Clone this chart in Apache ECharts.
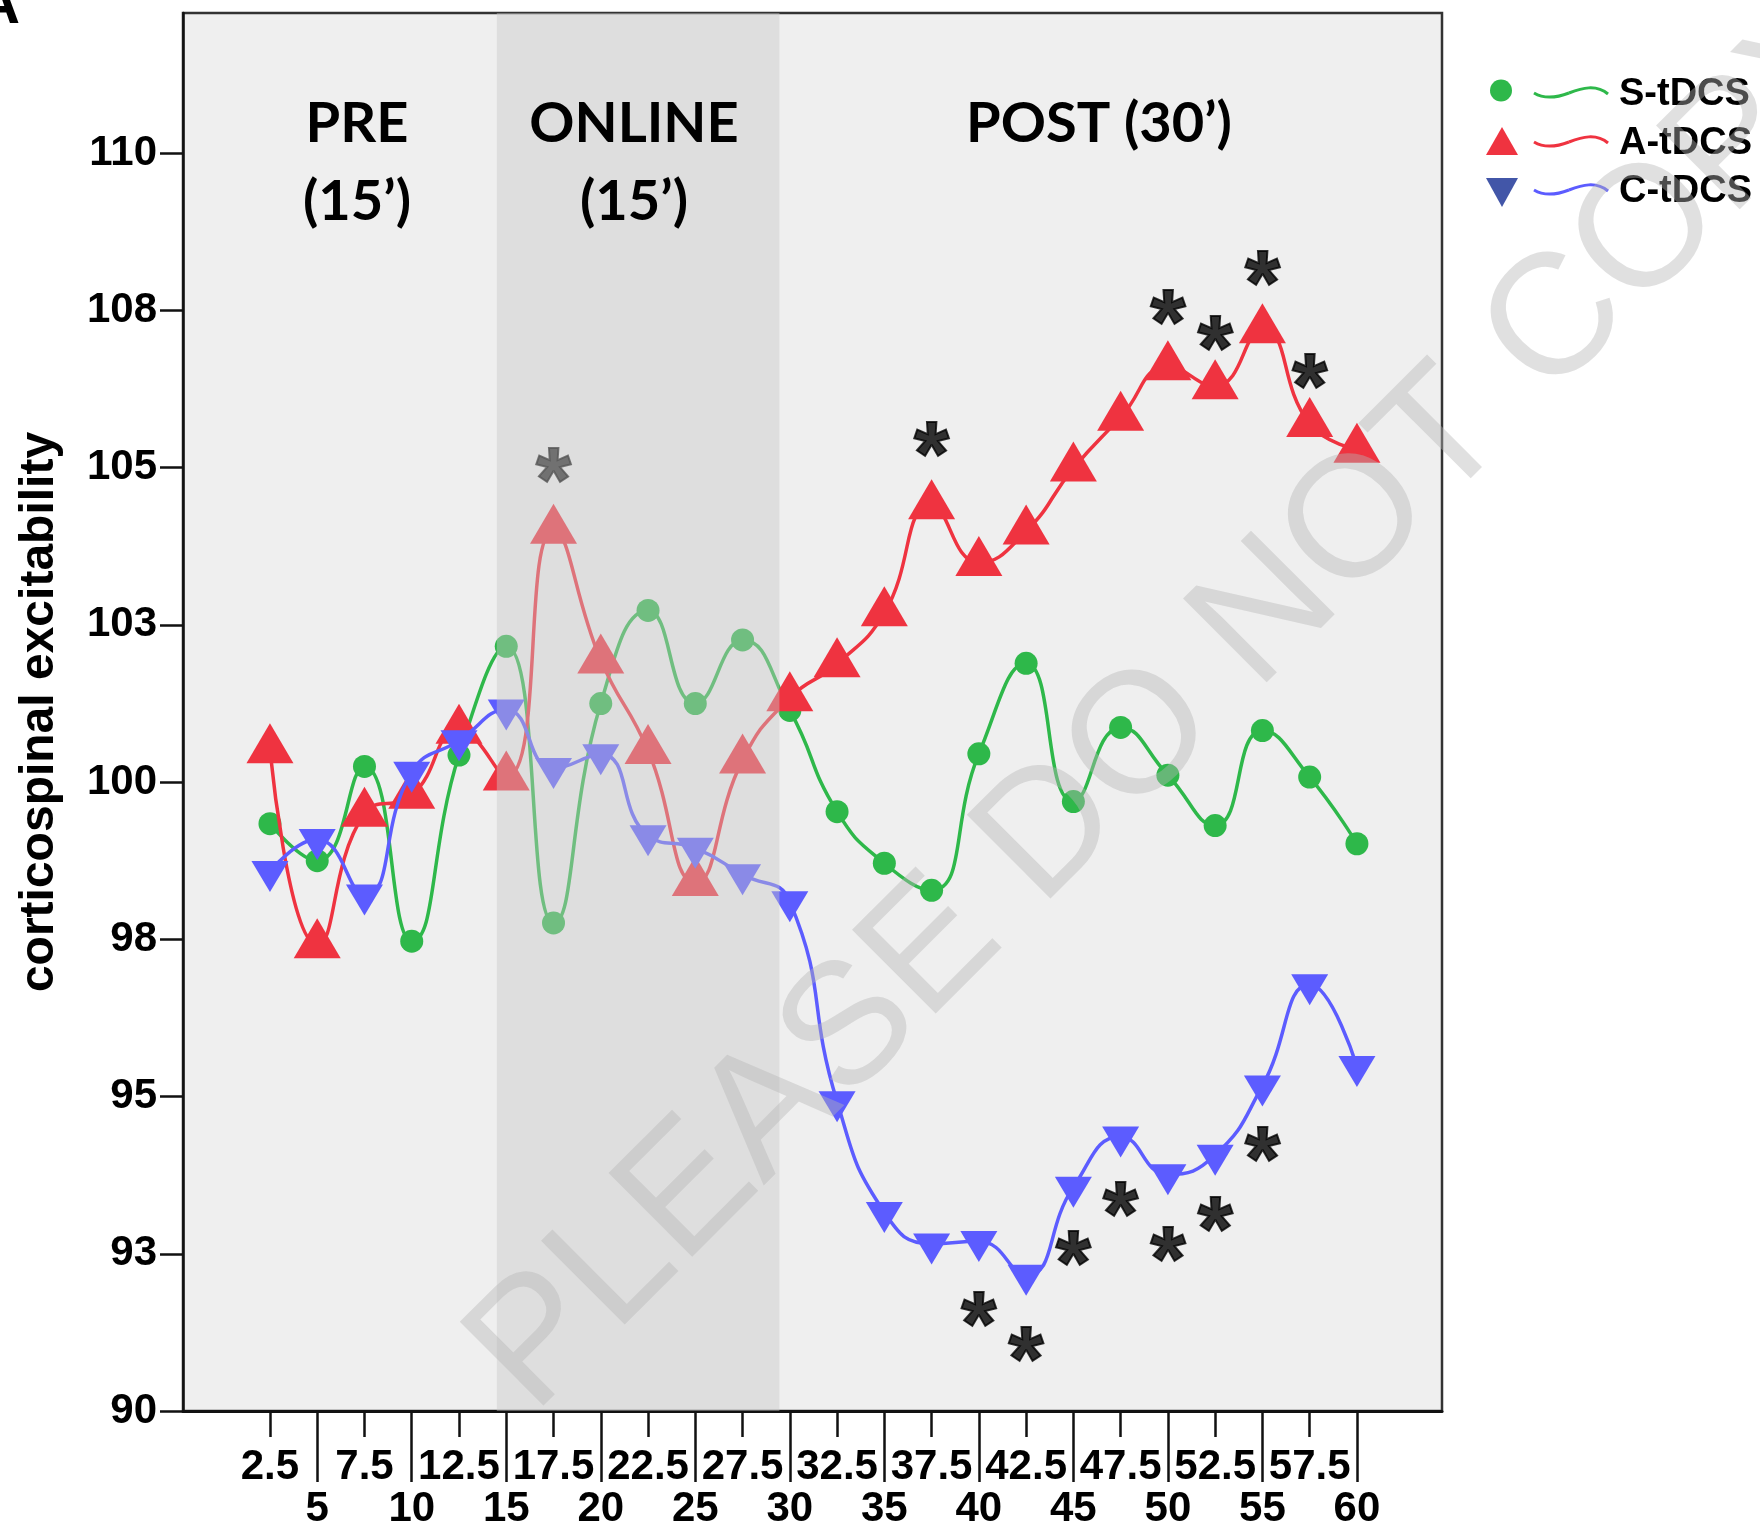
<!DOCTYPE html>
<html>
<head>
<meta charset="utf-8">
<script src="https://cdn.jsdelivr.net/npm/echarts@6/dist/echarts.min.js"></script>
<style>
  html, body { margin: 0; padding: 0; background: #ffffff; }
  #chart { width: 1760px; height: 1525px; }
</style>
</head>
<body>
<div id="chart"></div>
<script>
// Sampling times (minutes) and mean corticospinal excitability per condition
const timePoints = [2.5, 5, 7.5, 10, 12.5, 15, 17.5, 20, 22.5, 25, 27.5, 30,
                    32.5, 35, 37.5, 40, 42.5, 45, 47.5, 50, 52.5, 55, 57.5, 60];
const shamValues = [99.34, 98.75, 100.25, 97.47, 100.43, 102.16, 97.76, 101.25, 102.73, 101.25, 102.26, 101.14,
                    99.53, 98.71, 98.28, 100.45, 101.89, 99.69, 100.87, 100.11, 99.31, 100.82, 100.08, 99.02];
const anodalValues = [100.51, 97.41, 99.50, 99.79, 100.82, 100.08, 104.00, 101.94, 100.50, 98.40, 100.35, 101.34,
                      101.88, 102.69, 104.39, 103.49, 103.99, 104.99, 105.80, 106.60, 106.30, 107.19, 105.70, 105.29];
const cathodalValues = [98.58, 99.09, 98.21, 100.16, 100.66, 101.15, 100.22, 100.44, 99.15, 98.95, 98.53, 98.10,
                        94.92, 93.16, 92.66, 92.70, 92.16, 93.56, 94.36, 93.76, 94.07, 95.17, 96.78, 95.48];

// Significance asterisks (time, level on the excitability scale)
const starX = [17.5, 37.5, 50, 52.5, 55, 57.5, 40, 42.5, 45, 47.5, 50, 52.5, 55];
const starY = [105.02, 105.43, 107.53, 107.13, 108.16, 106.52, 91.60, 91.04, 92.58, 93.35, 92.63, 93.11, 94.22];

// Axis ticks and labels
const yTickValues = [90, 92.5, 95, 97.5, 100, 102.5, 105, 107.5, 110];
const yTickLabels = ['90', '93', '95', '98', '100', '103', '105', '108', '110'];
const xTickUpper = [2.5, 7.5, 12.5, 17.5, 22.5, 27.5, 32.5, 37.5, 42.5, 47.5, 52.5, 57.5];
const xTickLower = [5, 10, 15, 20, 25, 30, 35, 40, 45, 50, 55, 60];

// Stimulation window and phase headings
const onlineWindow = [14.5, 29.45];
const phaseTitles = ['PRE\n(15\u2019)', 'ONLINE\n(15\u2019)', 'POST (30\u2019)'];
const seriesNames = ['S-tDCS', 'A-tDCS', 'C-tDCS'];

const COLORS = { sham: '#2eb84a', anodal: '#ef3340', cathodal: '#5c5cff', cathodalKey: '#4256a8' };
const FONT = "'Liberation Sans', Arial, Helvetica, sans-serif";
const HEAD_FONT = "Lato, 'Open Sans', sans-serif";

const pairs = vals => timePoints.map((t, i) => [t, vals[i]]);
const yLabelMap = {};
yTickValues.forEach((v, i) => { yLabelMap[v] = yTickLabels[i]; });

const X_MIN = -2.1, X_MAX = 64.5, Y_MIN = 90, Y_MAX = 112.23;

const axisText = { fontFamily: FONT, fontWeight: 'bold', fontSize: 42, color: '#000', lineHeight: 42 };

function keyRow(i, y, marker) {
  const x0 = 1534;
  const color = [COLORS.sham, COLORS.anodal, COLORS.cathodal][i];
  const wy = y;
  return [
    marker,
    { type: 'bezierCurve', z: 20,
      shape: { x1: x0, y1: wy, cpx1: x0 + 10, cpy1: wy + 6, cpx2: x0 + 22, cpy2: wy + 5, x2: x0 + 35, y2: wy },
      style: { stroke: color, lineWidth: 3, fill: null } },
    { type: 'bezierCurve', z: 20,
      shape: { x1: x0 + 35, y1: wy, cpx1: x0 + 48, cpy1: wy - 5, cpx2: x0 + 62, cpy2: wy - 9, x2: x0 + 74, y2: wy + 1 },
      style: { stroke: color, lineWidth: 3, fill: null } },
    { type: 'text', z: 20, x: 1619, y: y + 2,
      style: { text: seriesNames[i], fontFamily: FONT, fontWeight: 'bold', fontSize: 38, fill: '#000',
               align: 'left', verticalAlign: 'middle' } }
  ];
}

const headStyle = { fontFamily: HEAD_FONT, fontWeight: 'bold', fontSize: 56, fill: '#000',
                    align: 'center', verticalAlign: 'middle', lineHeight: 78 };

const graphicElements = [
  { type: 'text', z: 20, x: 357, y: 163, style: Object.assign({ text: phaseTitles[0] }, headStyle) },
  { type: 'text', z: 20, x: 634, y: 163, style: Object.assign({ text: phaseTitles[1] }, headStyle) },
  { type: 'text', z: 20, x: 1099, y: 124, style: Object.assign({ text: phaseTitles[2] }, headStyle) },
  ...keyRow(0, 93, { type: 'circle', z: 20, shape: { cx: 1501, cy: 90.5, r: 11 }, style: { fill: COLORS.sham } }),
  ...keyRow(1, 142, { type: 'polygon', z: 20, shape: { points: [[1486, 155], [1518, 155], [1502, 127]] }, style: { fill: COLORS.anodal } }),
  ...keyRow(2, 190, { type: 'polygon', z: 20, shape: { points: [[1486, 178], [1518, 178], [1502, 207]] }, style: { fill: COLORS.cathodalKey } }),
  { type: 'text', z: 20, x: 20, y: 6,
    style: { text: 'A', fontFamily: FONT, fontWeight: 'bold', fontSize: 60, fill: '#000', align: 'right', verticalAlign: 'middle' } },
  { type: 'text', z: 100, x: 500, y: 1382, rotation: Math.PI / 4,
    style: { text: 'PLEASE DO NOT COPY', fontFamily: FONT, fontSize: 172, fill: 'rgba(180,180,180,0.42)',
             align: 'left', verticalAlign: 'middle' } }
];

const chart = echarts.init(document.getElementById('chart'), null, { renderer: 'canvas' });

chart.setOption({
  animation: false,
  backgroundColor: '#ffffff',
  grid: {
    left: 183, right: 318, top: 13, bottom: 114,
    containLabel: false, outerBoundsMode: 'none',
    show: true, backgroundColor: '#efefef', borderColor: '#333', borderWidth: 2.5
  },
  xAxis: [
    {
      type: 'value', min: X_MIN, max: X_MAX, position: 'bottom',
      axisLine: { show: true, onZero: false, lineStyle: { color: '#111', width: 3 } },
      axisTick: { show: true, customValues: xTickUpper, length: 26, lineStyle: { color: '#111', width: 2.5 } },
      axisLabel: Object.assign({ customValues: xTickUpper, margin: 35, formatter: v => String(v) }, axisText),
      splitLine: { show: false }
    },
    {
      type: 'value', min: X_MIN, max: X_MAX, position: 'bottom',
      axisLine: { show: false, onZero: false },
      axisTick: { show: true, customValues: xTickLower, length: 71, lineStyle: { color: '#111', width: 2.5 } },
      axisLabel: Object.assign({ customValues: xTickLower, margin: 77, formatter: v => String(v) }, axisText),
      splitLine: { show: false }
    }
  ],
  yAxis: {
    type: 'value', min: Y_MIN, max: Y_MAX, interval: 2.5,
    name: 'corticospinal excitability', nameLocation: 'middle', nameGap: 119, nameRotate: 90,
    nameTextStyle: { fontFamily: FONT, fontWeight: 'bold', fontSize: 48, color: '#000' },
    axisLine: { show: true, onZero: false, lineStyle: { color: '#111', width: 2.5 } },
    axisTick: { show: true, customValues: yTickValues, length: 23, lineStyle: { color: '#111', width: 2.5 } },
    axisLabel: Object.assign({ customValues: yTickValues, margin: 26, padding: [14, 0, 0, 0],
                               formatter: v => yLabelMap[v] !== undefined ? yLabelMap[v] : '' }, axisText),
    splitLine: { show: false }
  },
  graphic: { elements: graphicElements },
  series: [
    {
      name: seriesNames[0], type: 'line', z: 2, smooth: 0.5,
      data: pairs(shamValues),
      symbol: 'circle', symbolSize: 23,
      itemStyle: { color: COLORS.sham },
      lineStyle: { color: COLORS.sham, width: 3.5 },
      emphasis: { disabled: true }
    },
    {
      name: seriesNames[1], type: 'line', z: 3, smooth: 0.5,
      data: pairs(anodalValues),
      symbol: 'triangle', symbolSize: [47, 40], symbolOffset: [0, -6.7],
      itemStyle: { color: COLORS.anodal },
      lineStyle: { color: COLORS.anodal, width: 3.5 },
      emphasis: { disabled: true }
    },
    {
      name: seriesNames[2], type: 'line', z: 4, smooth: 0.5,
      data: pairs(cathodalValues),
      symbol: 'path://M0 0 L40 0 L20 34 Z', symbolSize: [37, 31], symbolOffset: [0, 5.2],
      itemStyle: { color: COLORS.cathodal },
      lineStyle: { color: COLORS.cathodal, width: 3.5 },
      emphasis: { disabled: true }
    },
    {
      name: 'significance', type: 'scatter', z: 5,
      data: starX.map((x, i) => [x, starY[i]]),
      symbolSize: 1, itemStyle: { color: 'rgba(0,0,0,0)' },
      label: { show: true, position: 'inside', formatter: '*', fontFamily: FONT, fontWeight: 'bold',
               fontSize: 90, color: '#000', textBorderColor: '#000', textBorderWidth: 2, offset: [0, 20] },
      emphasis: { disabled: true }
    },
    {
      name: 'online', type: 'line', z: 10, data: [],
      markArea: {
        z: 10, silent: true,
        itemStyle: { color: 'rgba(199,199,199,0.43)', borderWidth: 0 },
        data: [[{ xAxis: onlineWindow[0] }, { xAxis: onlineWindow[1] }]]
      }
    }
  ]
});
</script>
</body>
</html>
